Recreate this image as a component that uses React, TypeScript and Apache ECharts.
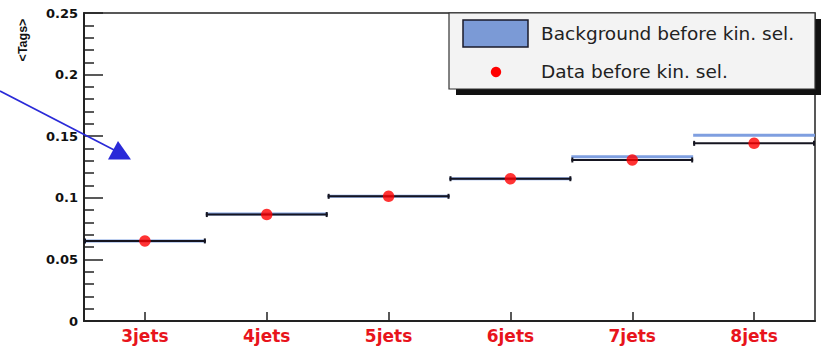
import React, { useEffect, useRef } from "react";
import * as echarts from "echarts";

const categories = ["3jets", "4jets", "5jets", "6jets", "7jets", "8jets"];
const dataValues = [0.065, 0.0864, 0.1012, 0.1155, 0.1307, 0.1442];
const backgroundValues = [0.065, 0.0869, 0.1012, 0.1155, 0.1334, 0.1508];
const yTicks = { min: 0, max: 0.25, interval: 0.05 };
const legendLabels = ["Background before kin. sel.", "Data before kin. sel."];
const yAxisTitle = "<Tags>";

export default function App() {
  const ref = useRef<HTMLDivElement>(null);
  useEffect(() => {
    if (!ref.current) return;
    const chart = echarts.init(ref.current, undefined, { renderer: "svg" });
    const font = "DejaVu Sans, Liberation Sans, Arial, sans-serif";

    const hbar = (color: string, width: number, caps: boolean) =>
      (params: any, api: any) => {
        const idx = api.value(0);
        const v = api.value(1);
        const c = api.coord([idx, v]);
        const w = api.size([1, 0])[0];
        const x0 = c[0] - w / 2;
        const x1 = c[0] + w / 2;
        const children: any[] = [
          {
            type: "line",
            shape: { x1: x0, y1: c[1], x2: x1, y2: c[1] },
            style: { stroke: color, lineWidth: width },
          },
        ];
        if (caps) {
          children.push(
            { type: "line", shape: { x1: x0 + 1, y1: c[1] - 2.5, x2: x0 + 1, y2: c[1] + 2.5 }, style: { stroke: color, lineWidth: 2 } },
            { type: "line", shape: { x1: x1 - 1, y1: c[1] - 2.5, x2: x1 - 1, y2: c[1] + 2.5 }, style: { stroke: color, lineWidth: 2 } }
          );
        }
        return { type: "group", children };
      };

    const option: any = {
      animation: false,
      backgroundColor: "#ffffff",
      grid: {
        left: 84,
        right: 10,
        top: 13,
        bottom: 26,
        show: true,
        borderColor: "#222",
        borderWidth: 1.5,
        backgroundColor: "transparent",
      },
      xAxis: {
        type: "category",
        data: categories,
        boundaryGap: true,
        axisLine: { lineStyle: { color: "#222", width: 2 } },
        axisTick: { show: true, alignWithLabel: true, inside: true, length: 9, lineStyle: { color: "#222", width: 1.5 } },
        axisLabel: { color: "#e8141c", fontWeight: "bold", fontSize: 17, fontFamily: font, margin: 6 },
        splitLine: { show: false },
      },
      yAxis: {
        type: "value",
        min: yTicks.min,
        max: yTicks.max,
        interval: yTicks.interval,
        axisLine: { show: true, lineStyle: { color: "#222", width: 2 } },
        axisTick: { show: true, inside: true, length: 19, lineStyle: { color: "#222", width: 1.5 } },
        minorTick: { show: true, splitNumber: 5, length: 10, lineStyle: { color: "#222", width: 1.5 } },
        axisLabel: { color: "#111", fontWeight: "bold", fontSize: 13, fontFamily: font, margin: 6 },
        splitLine: { show: false },
      },
      series: [
        {
          name: legendLabels[0],
          type: "custom",
          renderItem: hbar("#7f9fe0", 3, false),
          data: backgroundValues.map((v, i) => [i, v]),
          encode: { x: 0, y: 1 },
          z: 2,
        },
        {
          name: "errors",
          type: "custom",
          renderItem: hbar("#151520", 2, true),
          data: dataValues.map((v, i) => [i, v]),
          encode: { x: 0, y: 1 },
          z: 3,
        },
        {
          name: legendLabels[1],
          type: "scatter",
          symbol: "circle",
          symbolSize: 11.5,
          itemStyle: { color: "#ff0000" },
          data: dataValues.map((v, i) => [i, v]),
          z: 4,
        },
      ],
      graphic: [
        {
          type: "text",
          x: 23,
          y: 40,
          rotation: Math.PI / 2,
          z: 100,
          style: { text: yAxisTitle, font: "bold 12.5px Liberation Sans, Arial, sans-serif", fill: "#111", textAlign: "center", textVerticalAlign: "middle" },
        },
        {
          type: "line",
          z: 100,
          shape: { x1: 0, y1: 91, x2: 118, y2: 152 },
          style: { stroke: "#2a2ad8", lineWidth: 1.6 },
        },
        {
          type: "polygon",
          z: 100,
          shape: { points: [[118, 141], [108, 159.5], [131, 159.5]] },
          style: { fill: "#2a2ad8" },
        },
        {
          type: "rect",
          z: 100,
          shape: { x: 456, y: 19, width: 365, height: 76 },
          style: { fill: "#111" },
        },
        {
          type: "rect",
          z: 101,
          shape: { x: 449, y: 13, width: 366, height: 76 },
          style: { fill: "#f3f3f3", stroke: "#333", lineWidth: 1.2 },
        },
        {
          type: "rect",
          z: 102,
          shape: { x: 463, y: 20, width: 65, height: 27 },
          style: { fill: "#7b9ad6", stroke: "#1a1a2a", lineWidth: 1.5 },
        },
        {
          type: "circle",
          z: 102,
          shape: { cx: 496, cy: 72, r: 5.2 },
          style: { fill: "#ff0000" },
        },
        {
          type: "text",
          z: 102,
          x: 541,
          y: 33.5,
          style: { text: legendLabels[0], font: `18.5px ${font}`, fill: "#222", textAlign: "left", textVerticalAlign: "middle" },
        },
        {
          type: "text",
          z: 102,
          x: 541,
          y: 71.5,
          style: { text: legendLabels[1], font: `18.5px ${font}`, fill: "#222", textAlign: "left", textVerticalAlign: "middle" },
        },
      ],
    };
    chart.setOption(option);
    return () => chart.dispose();
  }, []);
  return <div ref={ref} style={{ position: "fixed", left: 0, top: 0, width: 825, height: 347 }} />;
}
